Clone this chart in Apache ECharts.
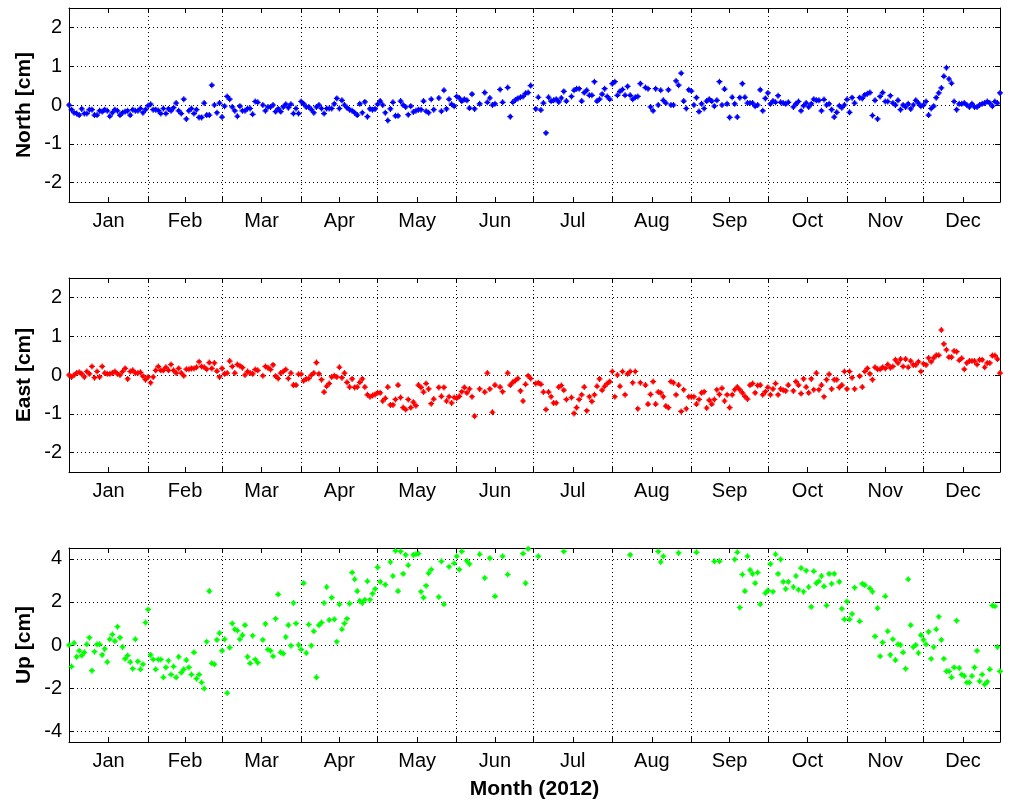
<!DOCTYPE html>
<html><head><meta charset="utf-8">
<script src="https://cdn.jsdelivr.net/npm/echarts@6/dist/echarts.min.js"></script>
<style>html,body{margin:0;padding:0;background:#fff}#c{width:1011px;height:806px}</style>
</head><body><div id="c"></div>
<script>
// ---- data (day index 0 = 1 Jan 2012) ----
const monthNames = ['Jan','Feb','Mar','Apr','May','Jun','Jul','Aug','Sep','Oct','Nov','Dec'];
const monthStarts = [0,31,60,91,121,152,182,213,244,274,305,335];
const monthLengths = [31,29,31,30,31,30,31,31,30,31,30,31];
const dayMin = 0, dayMax = 365;
const horizTicks = [-2,-1,0,1,2];
const upTicks = [-4,-2,0,2,4];

const north = [
0,-0.12,-0.2,-0.22,-0.26,-0.1,-0.22,-0.22,-0.12,-0.12,
-0.26,-0.26,-0.15,-0.17,-0.12,-0.15,-0.29,-0.2,-0.12,-0.15,
-0.26,-0.2,-0.17,-0.15,-0.26,-0.12,-0.15,-0.15,-0.09,-0.2,
-0.12,-0.02,0.02,-0.12,-0.12,-0.14,-0.22,-0.09,-0.22,-0.1,
-0.15,-0.07,0.05,-0.15,-0.22,0.15,-0.36,-0.15,-0.09,-0.22,
-0.12,-0.32,-0.32,0.05,-0.26,-0.26,0.51,0,-0.2,0.05,
-0.31,-0.03,0.22,0.15,-0.05,-0.15,-0.29,-0.03,-0.15,-0.15,
-0.09,-0.09,-0.24,0.09,0.07,null,0,-0.15,-0.05,-0.05,
0,-0.17,-0.1,-0.17,-0.05,0.02,-0.07,0.02,-0.22,-0.09,
-0.22,0.09,0.03,-0.05,-0.05,-0.12,-0.2,-0.05,0,-0.09,
-0.22,-0.09,-0.09,-0.09,0.03,0.17,-0.09,0.12,0,-0.07,
-0.12,-0.15,-0.2,-0.26,0.03,-0.2,0.08,-0.3,-0.1,-0.12,
-0.1,0.02,0.1,0,-0.2,-0.4,-0.1,0.07,-0.28,-0.28,
0.1,0,-0.05,-0.25,-0.03,-0.18,-0.15,-0.12,-0.12,0.1,
-0.16,-0.2,0.15,-0.12,null,0.18,-0.16,0.38,-0.1,0.15,
0.02,-0.03,0.22,0.18,0.1,0.15,0.12,-0.08,0.28,-0.1,
null,0.03,null,0.32,0.07,0.18,0,0.03,null,0.4,
0.07,null,0.45,-0.3,0.07,0.13,0.17,0.2,0.22,0.3,
0.32,0.5,null,-0.1,0.2,-0.13,0.05,-0.72,0.2,0.1,
0.12,0.15,0.08,0.18,0.35,0.1,null,0.22,0.38,0.42,
0.42,0.1,0.32,0.38,0.25,0.25,0.6,0.1,0.15,0.28,
0.42,0.22,0.15,0.55,0.6,0.25,0.35,0.4,0.25,0.48,
0.25,0.15,0.2,0.22,0.55,null,0.45,0.42,-0.05,-0.15,
0.42,0,0.38,0.12,0.05,0.39,0,0,0.62,0.51,
0.82,0.1,-0.09,0.39,0.36,0,0.19,-0.17,0.03,-0.09,
0.1,0.15,0.1,-0.03,0.12,0.6,0,0.41,0.03,-0.32,
0.2,0.03,-0.31,0.19,0.55,0.2,0.05,0.05,0.05,-0.03,
0,0.39,-0.15,0.17,0.31,0.03,0.1,0.07,0.24,0.07,
0.05,0.03,0.07,null,-0.05,0.03,0.09,-0.15,-0.02,0.05,
-0.05,0.03,0.15,0.12,0.12,-0.15,0.14,0,0.03,-0.12,
-0.31,-0.19,-0.02,-0.07,0,0.14,-0.19,0.19,0.05,null,
0.19,0.17,0.26,0.29,0.32,-0.27,0.12,-0.36,0.22,0.32,
0.09,0.09,0.24,0.05,0,0.12,-0.12,0,-0.05,0.03,
-0.1,0,0.12,0.05,-0.03,0,0.09,-0.26,-0.09,-0.03,
0.19,0.31,0.44,0.74,0.96,0.67,0.56,0.09,-0.12,0.03,
0.03,0.05,0,-0.05,0.03,-0.05,-0.05,0,0.03,0.05,
0.09,0.05,-0.03,0.09,0.05,0.31
];

const east = [
0,-0.05,0,0.05,0.07,0.03,-0.05,0.09,0.03,0.22,
-0.07,0.09,-0.05,0.22,0.05,0.03,0.03,0.05,0.09,0.03,
0,0.09,0.17,-0.1,0.09,0.12,0.05,0.05,0.07,-0.03,
-0.12,-0.05,-0.2,-0.05,0.12,0.22,0.12,0.12,0.2,0.12,
0.27,0.12,0.05,0.17,0.05,-0.02,0.15,0.15,0.17,0.17,
0.2,0.34,0.22,0.2,0.15,0.32,0.17,0.31,0.1,-0.05,
0.17,0.03,0.05,0.36,0.22,0.05,0.27,0.24,0.19,0,
0.09,0.05,0.03,0.14,0.12,null,-0.02,0.22,0.19,0.14,
0.26,-0.03,-0.09,0.05,0.09,0.14,-0.09,0.05,-0.26,-0.26,
0.02,0.02,-0.15,-0.1,-0.09,0,0.05,0.32,0.03,-0.12,
-0.44,-0.29,-0.22,-0.05,-0.02,-0.05,0.2,-0.07,0.05,-0.19,
-0.31,-0.1,-0.32,-0.31,-0.19,-0.1,-0.31,-0.51,-0.56,-0.53,
-0.5,-0.46,-0.46,-0.67,-0.6,-0.31,-0.77,-0.77,-0.63,-0.26,
-0.58,-0.84,-0.89,-0.63,-0.84,-0.7,-0.79,-0.26,-0.32,-0.44,
-0.22,-0.36,-0.74,-0.62,null,-0.32,-0.55,-0.32,-0.67,-0.56,
-0.72,-0.58,-0.6,-0.55,-0.43,-0.32,-0.46,-0.36,-0.56,-1.06,
null,-0.36,null,-0.44,0.05,-0.36,-0.96,-0.26,null,-0.31,
-0.43,null,0.05,-0.26,-0.19,-0.14,-0.09,-0.41,-0.67,-0.24,
-0.02,-0.09,null,-0.22,-0.2,-0.24,-0.44,-0.89,-0.44,-0.56,
-0.72,-0.72,-0.31,-0.27,-0.39,-0.63,null,-0.58,-0.99,-0.84,
-0.63,-0.51,-0.31,-0.92,-0.56,-0.68,-0.51,-0.29,-0.1,-0.39,
-0.29,-0.22,-0.17,0.09,-0.56,0,-0.29,0.09,-0.51,0.03,
0.09,-0.2,0.09,-0.87,-0.2,null,-0.26,-0.75,-0.5,-0.17,
-0.75,-0.44,-0.46,-0.56,-0.8,-0.84,-0.17,-0.2,-0.51,-0.26,
-0.94,-0.38,-0.87,-0.56,-0.56,-0.56,-0.75,-0.63,-0.46,-0.43,
-0.85,-0.65,-0.75,-0.63,-0.38,-0.5,-0.34,-0.67,-0.51,-0.84,
-0.51,-0.38,-0.31,-0.38,-0.46,-0.55,-0.62,-0.26,-0.22,-0.46,
-0.27,-0.26,-0.51,-0.43,-0.32,-0.51,-0.36,-0.22,-0.51,-0.36,
-0.39,-0.41,-0.26,null,-0.41,-0.17,-0.26,-0.48,-0.1,-0.31,
-0.46,-0.1,-0.38,0.05,-0.38,-0.26,-0.56,-0.12,0.02,-0.36,
-0.12,-0.12,-0.32,-0.26,0.09,-0.36,0.09,-0.07,-0.36,null,
-0.03,-0.31,0.09,0.17,0.03,-0.12,0.2,0.15,0.15,0.2,
0.17,0.27,0.19,0.22,0.39,0.31,0.41,0.22,0.41,0.2,
0.36,0.26,0.26,0.34,0.09,0.29,0.26,0.44,0.34,0.44,
0.51,0.51,1.16,0.8,0.65,0.46,0.46,0.62,0.6,0.38,
0.43,0.15,0.31,0.36,0.36,0.36,0.27,0.39,0.39,0.2,
0.31,0.31,0.5,0.5,0.41,0.05
];

const up = [
0,-1.0,0.09,-0.55,-0.27,-0.49,-0.34,0.03,0.34,-1.19,
-0.31,0.03,0.03,-0.46,-0.18,-0.79,0.27,0.49,0.18,0.85,
0.34,-0.09,-0.64,-0.49,-0.79,-1.1,0.27,-0.76,-1.13,-0.89,
1.04,1.65,-0.46,-0.67,-1.13,-0.67,-0.67,-1.5,-1.04,-0.73,
-1.37,-1.0,-1.5,-0.55,-1.28,-1.13,-0.7,-1.04,-1.37,-0.34,
-1.56,-1.37,-1.74,-2.02,0.15,2.5,-0.85,-0.89,0.24,0.55,
-0.27,0.27,-2.23,-0.12,1.0,0.73,0.67,0.27,0.46,0.92,
-0.55,-0.85,0.43,-0.67,-0.82,null,0.24,0.98,-0.21,-0.27,
-0.52,1.22,2.35,-0.34,-0.4,0.37,0.92,-0.03,1.95,1.0,
0,-0.21,2.87,-0.37,0.95,-0.03,0.64,-1.5,0.92,1.04,
1.95,2.69,1.16,2.2,1.19,0.15,1.89,0.73,1.0,1.22,
1.92,3.36,3.05,2.5,2.05,1.95,2.1,2.96,2.1,2.38,
2.6,3.6,2.93,null,2.8,null,3.85,3.2,4.37,2.5,
4.34,3.3,4.18,3.7,null,4.18,4.21,4.24,2.47,2.2,
2.75,3.33,3.5,null,null,2.23,3.88,1.89,null,3.63,
null,3.79,4.12,3.5,4.34,null,3.9,3.76,null,null,
null,4.21,null,3.11,null,4.03,null,2.26,null,null,
4.12,null,3.27,null,null,null,null,null,4.24,2.87,
4.46,null,null,null,4.12,null,null,null,null,null,
null,null,null,null,4.34,null,null,null,null,null,
null,null,null,null,null,null,null,null,null,null,
null,null,null,null,null,null,null,null,null,null,
4.18,null,null,null,null,null,null,null,null,null,
null,4.34,3.85,4.12,null,null,null,null,null,4.27,
null,null,null,null,null,null,4.3,null,null,null,
null,null,null,3.88,null,3.88,null,null,null,null,
null,3.97,4.3,1.74,3.27,2.5,4.12,3.48,3.3,2.87,
3.36,1.89,null,2.41,2.53,3.76,2.47,4.21,3.3,3.97,
2.93,2.6,2.93,null,2.69,3.2,2.56,3.57,2.47,3.45,
2.69,1.77,3.42,2.87,2.96,3.2,2.72,1.83,3.3,2.84,
3.3,null,2.93,1.68,1.19,2.02,1.19,1.44,2.66,null,
1.1,2.84,2.78,null,2.63,2.47,0.4,1.71,-0.52,0.12,
2.26,0.64,-0.46,0.27,-0.7,0.03,0,-0.34,-1.1,3.05,
0.92,-0.09,0,-0.37,0.46,0.24,0.03,0.61,-0.64,-0.09,
0.73,1.31,0.24,-0.64,-1.22,-1.22,-1.5,-1.04,1.13,-1.07,
-1.37,-1.44,-1.74,-1.74,-1.44,-1.04,-0.27,-1.68,-1.37,-1.83,
-1.71,-1.13,1.83,1.8,-0.09,-1.22
];

// ---- chart ----
const FONT = '"Liberation Sans", Arial, Helvetica, sans-serif';
const mids = monthStarts.map((s, i) => s + monthLengths[i] / 2);
const innerStarts = monthStarts.slice(1);
const allTicks = innerStarts.concat(mids);
const monthLabel = v => { const i = mids.findIndex(m => Math.abs(m - v) < 0.01); return i < 0 ? '' : monthNames[i]; };
// stepped "fat plus" marker, like the pixelated MATLAB dot marker
const MARKER = 'path://M4 0L6 0L6 2L8 2L8 4L10 4L10 6L8 6L8 8L6 8L6 10L4 10L4 8L2 8L2 6L0 6L0 4L2 4L2 2L4 2Z';

const panels = [
  { name: 'North [cm]', values: north, color: '#0000ff', min: -2.5, max: 2.5, ticks: horizTicks, top: 8 },
  { name: 'East [cm]',  values: east,  color: '#ff0000', min: -2.5, max: 2.5, ticks: horizTicks, top: 278 },
  { name: 'Up [cm]',    values: up,    color: '#00ff00', min: -4.5, max: 4.5, ticks: upTicks,    top: 548 }
];

const black = { color: '#000', width: 1 };
const dotted = { color: '#000', width: 1, type: [1, 3] };
const grid = [], xAxis = [], yAxis = [], series = [];

panels.forEach((p, g) => {
  grid.push({ left: 69, width: 931, top: p.top, height: 194, outerBoundsMode: 'none', containLabel: false });
  // bottom axis with month labels
  xAxis.push({
    gridIndex: g, type: 'value', min: dayMin, max: dayMax, position: 'bottom',
    axisLine: { show: true, onZero: false, lineStyle: black },
    axisTick: { show: true, inside: true, length: 5, customValues: allTicks, lineStyle: black },
    axisLabel: { show: true, customValues: mids, formatter: monthLabel, color: '#000', fontSize: 20, fontFamily: FONT, margin: 9 },
    splitLine: { show: false },
    name: g === 2 ? 'Month (2012)' : '', nameLocation: 'middle', nameGap: 37, nameMoveOverlap: false,
    nameTextStyle: { color: '#000', fontSize: 21, fontWeight: 'bold', fontFamily: FONT }
  });
  // top mirror axis
  xAxis.push({
    gridIndex: g, type: 'value', min: dayMin, max: dayMax, position: 'top',
    axisLine: { show: true, onZero: false, lineStyle: black },
    axisTick: { show: true, inside: true, length: 5, customValues: allTicks, lineStyle: black },
    axisLabel: { show: false }, splitLine: { show: false }
  });
  // month-boundary grid lines
  xAxis.push({
    gridIndex: g, type: 'value', min: dayMin, max: dayMax, position: 'bottom',
    axisLine: { show: false, onZero: false },
    axisTick: { show: false, customValues: innerStarts },
    axisLabel: { show: false },
    splitLine: { show: true, lineStyle: dotted }
  });
  yAxis.push({
    gridIndex: g, type: 'value', min: p.min, max: p.max, position: 'left',
    axisLine: { show: true, onZero: false, lineStyle: black },
    axisTick: { show: true, inside: true, length: 5, customValues: p.ticks, lineStyle: black },
    axisLabel: { show: true, customValues: p.ticks, color: '#000', fontSize: 20, fontFamily: FONT, margin: 7 },
    splitLine: { show: true, lineStyle: dotted },
    name: p.name, nameLocation: 'middle', nameGap: 34, nameRotate: 90, nameMoveOverlap: false,
    nameTextStyle: { color: '#000', fontSize: 21, fontWeight: 'bold', fontFamily: FONT }
  });
  yAxis.push({
    gridIndex: g, type: 'value', min: p.min, max: p.max, position: 'right',
    axisLine: { show: true, onZero: false, lineStyle: black },
    axisTick: { show: true, inside: true, length: 5, customValues: p.ticks, lineStyle: black },
    axisLabel: { show: false }, splitLine: { show: false }
  });
  const data = [];
  p.values.forEach((v, d) => { if (v !== null) data.push([d, v]); });
  series.push({
    type: 'scatter', xAxisIndex: g * 3, yAxisIndex: g * 2, data: data,
    symbol: MARKER, symbolSize: 6, itemStyle: { color: p.color, opacity: 1 },
    clip: true, silent: true, z: 5
  });
});

const chart = echarts.init(document.getElementById('c'), null, { renderer: 'canvas' });
chart.setOption({ backgroundColor: '#fff', animation: false, grid, xAxis, yAxis, series });
</script>
</body></html>
